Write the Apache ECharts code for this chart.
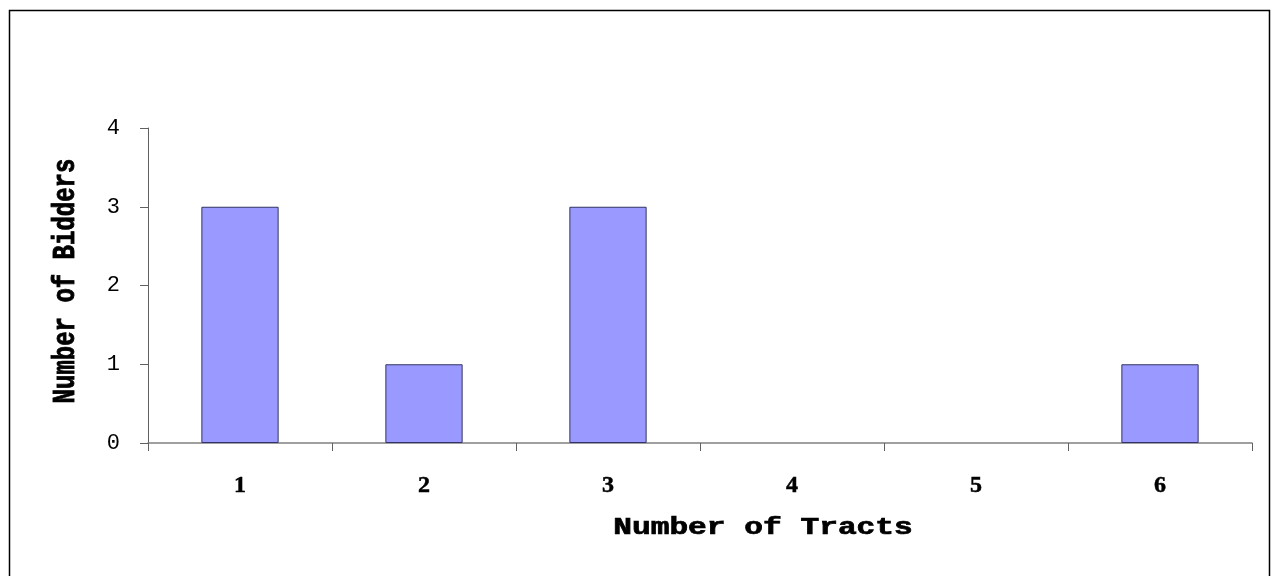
<!DOCTYPE html>
<html><head><meta charset="utf-8">
<script src="https://cdn.jsdelivr.net/npm/echarts@6/dist/echarts.min.js"></script>
<style>html,body{margin:0;padding:0;background:#fff}#c{width:1276px;height:576px}</style>
</head><body><div id="c"></div>
<script>
const categories = ['1','2','3','4','5','6'];
const bidders = [3,1,3,0,0,1];
const xTitle = 'Number of Tracts';
const yTitle = 'Number of Bidders';
const chart = echarts.init(document.getElementById('c'));
chart.setOption({
  animation:false,
  backgroundColor:'#fff',
  grid:{left:148,right:24,top:128,bottom:133},
  xAxis:{type:'category',data:categories,
    axisLine:{lineStyle:{color:'#808080',width:1.5}},
    axisTick:{show:true,length:8,lineStyle:{color:'#606060'}},
    axisLabel:{margin:31,fontFamily:'Liberation Serif',fontWeight:'bold',fontSize:24,color:'#000',textBorderColor:'#000',textBorderWidth:0.5}},
  yAxis:{type:'value',min:0,max:4,interval:1,
    axisLine:{show:true,lineStyle:{color:'#606060'}},
    axisTick:{show:true,length:8,lineStyle:{color:'#606060'}},
    splitLine:{show:false},
    axisLabel:{margin:28,fontFamily:'Liberation Mono',fontSize:22,color:'#000'}},
  series:[{type:'bar',barWidth:'42%',
    data:bidders.map(v => v === 0 ? {value:v,itemStyle:{borderWidth:0}} : v),
    itemStyle:{color:'#9999FF',borderColor:'#333366',borderWidth:1}}],
  graphic:[
    {type:'rect',shape:{x:9.5,y:10.5,width:1260,height:600},style:{fill:'none',stroke:'#000',lineWidth:1.5},z:-1},
    {type:'text',x:763,y:528,scaleX:1.3,style:{text:xTitle,font:'bold 24px "Liberation Mono"',fill:'#000',stroke:'#000',lineWidth:0.7,textAlign:'center',textVerticalAlign:'middle'}},
    {type:'text',x:66,y:281,rotation:Math.PI/2,scaleY:1.3,style:{text:yTitle,font:'bold 24px "Liberation Mono"',fill:'#000',stroke:'#000',lineWidth:0.7,textAlign:'center',textVerticalAlign:'middle'}}
  ]
});
</script></body></html>
